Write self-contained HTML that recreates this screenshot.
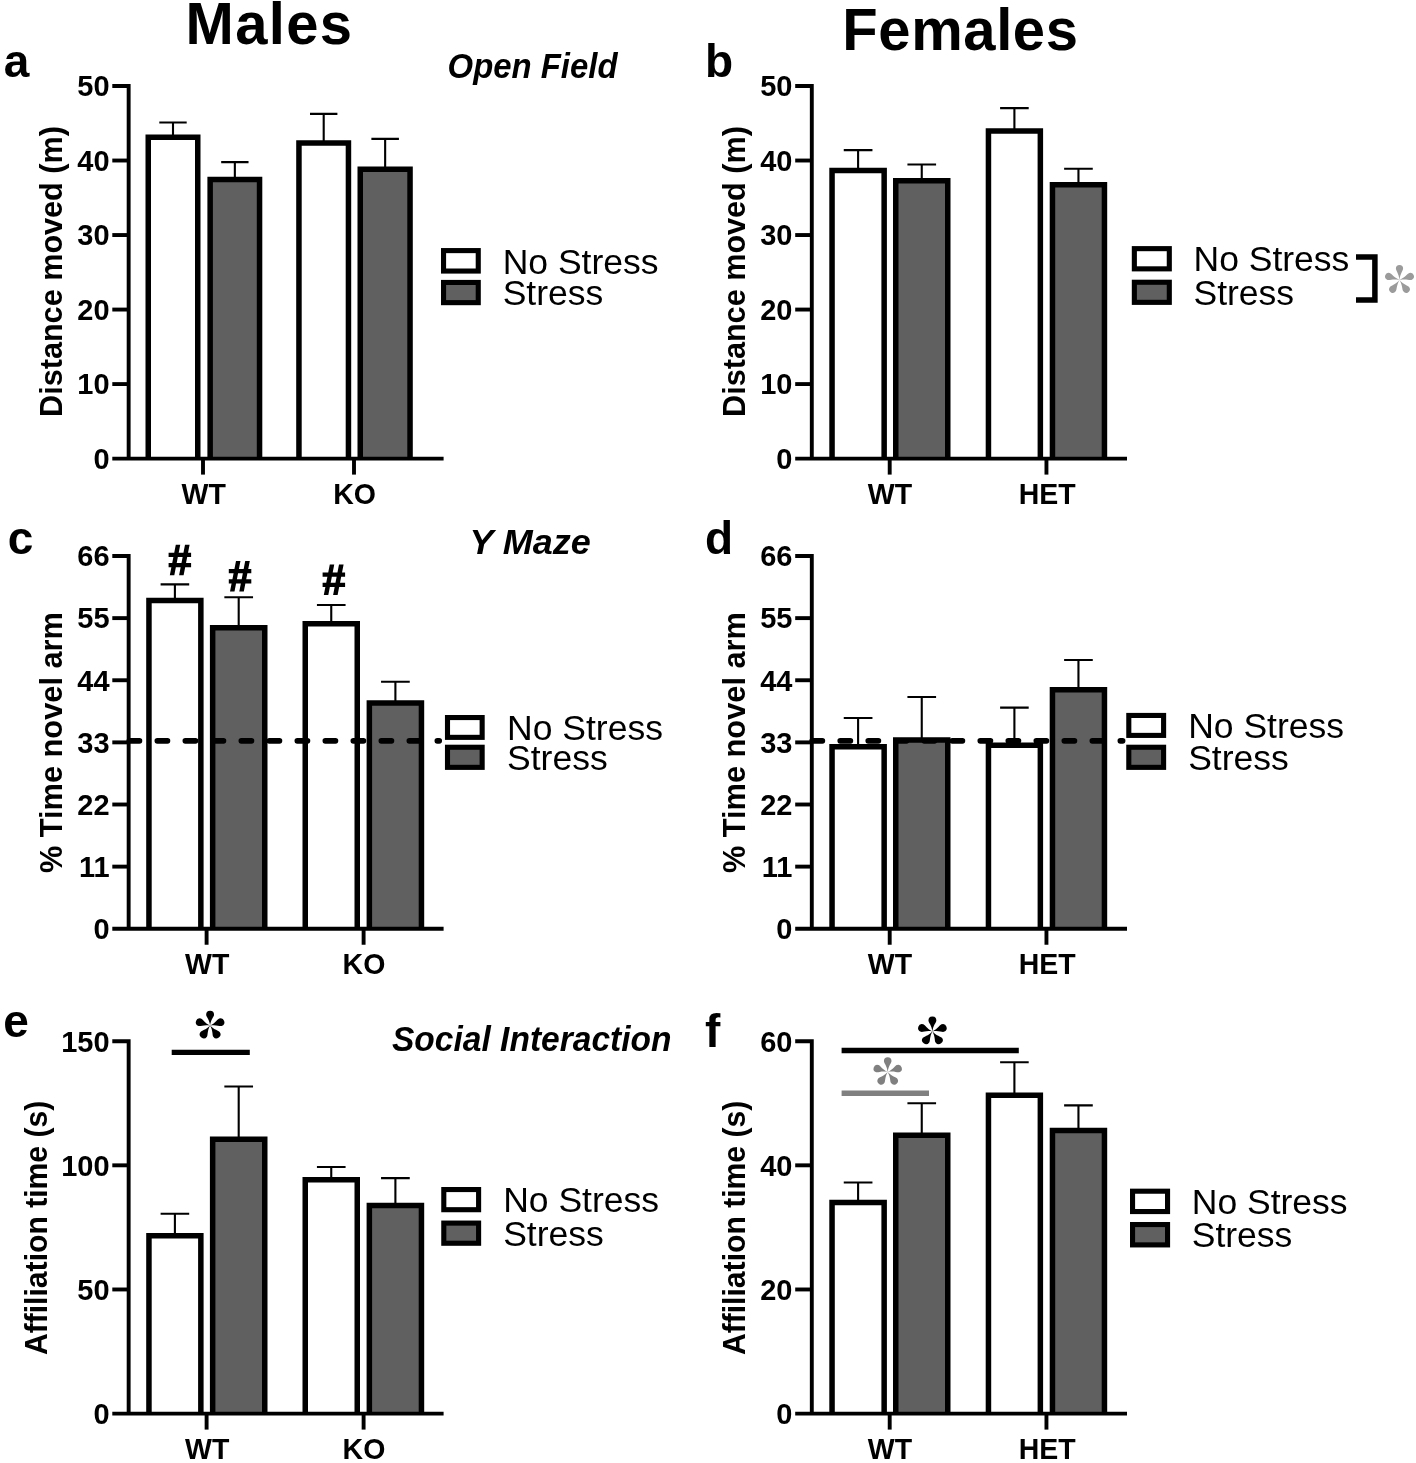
<!DOCTYPE html>
<html><head><meta charset="utf-8"><title>Figure</title>
<style>html,body{margin:0;padding:0;background:#fff}svg{display:block;will-change:transform}</style>
</head><body>
<svg width="1416" height="1463" viewBox="0 0 1416 1463" font-family="'Liberation Sans', sans-serif" fill="#000">
<rect width="1416" height="1463" fill="#fff"/>
<text transform="translate(185.6,44.3) scale(0.993,1)" font-size="58.4" font-weight="bold" font-style="normal" text-anchor="start" fill="#000" letter-spacing="1.3">Males</text>
<text transform="translate(842.3,49.6) scale(0.993,1)" font-size="58.4" font-weight="bold" font-style="normal" text-anchor="start" fill="#000" letter-spacing="0.6">Females</text>
<rect x="148.25" y="137.35" width="49.5" height="321.25" fill="#fff"/>
<rect x="210.15" y="179.55" width="49.4" height="279.05" fill="#606060"/>
<rect x="298.95" y="143.05" width="49.5" height="315.55" fill="#fff"/>
<rect x="360.25" y="169.25" width="49.8" height="289.35" fill="#606060"/>
<path d="M173,122.5V136.6M159.3,122.5H186.7" stroke="#000" stroke-width="2.1" fill="none"/>
<path d="M234.85,162.1V178.8M221.18,162.1H248.53" stroke="#000" stroke-width="2.1" fill="none"/>
<path d="M323.7,113.9V142.3M310,113.9H337.4" stroke="#000" stroke-width="2.1" fill="none"/>
<path d="M385.15,138.9V168.5M371.38,138.9H398.92" stroke="#000" stroke-width="2.1" fill="none"/>
<path d="M148.25,458.6V137.35H197.75V458.6" stroke="#000" stroke-width="5.5" fill="none" stroke-linejoin="miter"/>
<path d="M210.15,458.6V179.55H259.55V458.6" stroke="#000" stroke-width="5.5" fill="none" stroke-linejoin="miter"/>
<path d="M298.95,458.6V143.05H348.45V458.6" stroke="#000" stroke-width="5.5" fill="none" stroke-linejoin="miter"/>
<path d="M360.25,458.6V169.25H410.05V458.6" stroke="#000" stroke-width="5.5" fill="none" stroke-linejoin="miter"/>
<path d="M112.3,86H128.65M128.65,84.05V460.55M112.3,458.6H443.6" stroke="#000" stroke-width="3.9" fill="none"/>
<line x1="112.3" y1="160.52" x2="128.65" y2="160.52" stroke="#000" stroke-width="3.9"/>
<line x1="112.3" y1="235.04" x2="128.65" y2="235.04" stroke="#000" stroke-width="3.9"/>
<line x1="112.3" y1="309.56" x2="128.65" y2="309.56" stroke="#000" stroke-width="3.9"/>
<line x1="112.3" y1="384.08" x2="128.65" y2="384.08" stroke="#000" stroke-width="3.9"/>
<text transform="translate(109.6,96.3) scale(0.973,1)" font-size="29.8" font-weight="bold" font-style="normal" text-anchor="end" fill="#000">50</text>
<text transform="translate(109.6,170.82) scale(0.973,1)" font-size="29.8" font-weight="bold" font-style="normal" text-anchor="end" fill="#000">40</text>
<text transform="translate(109.6,245.34) scale(0.973,1)" font-size="29.8" font-weight="bold" font-style="normal" text-anchor="end" fill="#000">30</text>
<text transform="translate(109.6,319.86) scale(0.973,1)" font-size="29.8" font-weight="bold" font-style="normal" text-anchor="end" fill="#000">20</text>
<text transform="translate(109.6,394.38) scale(0.973,1)" font-size="29.8" font-weight="bold" font-style="normal" text-anchor="end" fill="#000">10</text>
<text transform="translate(109.6,468.9) scale(0.973,1)" font-size="29.8" font-weight="bold" font-style="normal" text-anchor="end" fill="#000">0</text>
<line x1="203" y1="458.6" x2="203" y2="474.6" stroke="#000" stroke-width="3.9"/>
<text transform="translate(203.75,504.3) scale(0.976,1)" font-size="29.2" font-weight="bold" font-style="normal" text-anchor="middle" fill="#000">WT</text>
<line x1="354" y1="458.6" x2="354" y2="474.6" stroke="#000" stroke-width="3.9"/>
<text transform="translate(354.5,504.3) scale(0.976,1)" font-size="29.2" font-weight="bold" font-style="normal" text-anchor="middle" fill="#000">KO</text>
<text transform="translate(61.5,271.5) rotate(-90) scale(0.9723,1)" font-size="31.5" font-weight="bold" text-anchor="middle">Distance moved (m)</text>
<text x="3.75" y="76.7" font-size="46" font-weight="bold" font-style="normal" text-anchor="start" fill="#000">a</text>
<rect x="443.55" y="250.6" width="34.7" height="20.45" fill="#fff" stroke="#000" stroke-width="5.1"/>
<rect x="443.55" y="282.45" width="34.7" height="20.2" fill="#606060" stroke="#000" stroke-width="5.1"/>
<text x="502.7" y="273.6" font-size="35.5" font-weight="normal" font-style="normal" text-anchor="start" fill="#000">No Stress</text>
<text x="502.7" y="305.2" font-size="35.5" font-weight="normal" font-style="normal" text-anchor="start" fill="#000">Stress</text>
<text transform="translate(617.5,78.2) scale(0.962,1)" font-size="34.2" font-weight="bold" font-style="italic" text-anchor="end">Open Field</text>
<rect x="832.05" y="170.45" width="52.1" height="288.15" fill="#fff"/>
<rect x="895.75" y="180.75" width="52" height="277.85" fill="#606060"/>
<rect x="988.45" y="131.05" width="51.9" height="327.55" fill="#fff"/>
<rect x="1052.45" y="184.65" width="52" height="273.95" fill="#606060"/>
<path d="M858.1,150.1V169.7M843.75,150.1H872.45" stroke="#000" stroke-width="2.1" fill="none"/>
<path d="M921.75,164.5V180M907.42,164.5H936.08" stroke="#000" stroke-width="2.1" fill="none"/>
<path d="M1014.4,108.1V130.3M1000.1,108.1H1028.7" stroke="#000" stroke-width="2.1" fill="none"/>
<path d="M1078.45,168.7V183.9M1064.12,168.7H1092.78" stroke="#000" stroke-width="2.1" fill="none"/>
<path d="M832.05,458.6V170.45H884.15V458.6" stroke="#000" stroke-width="5.5" fill="none" stroke-linejoin="miter"/>
<path d="M895.75,458.6V180.75H947.75V458.6" stroke="#000" stroke-width="5.5" fill="none" stroke-linejoin="miter"/>
<path d="M988.45,458.6V131.05H1040.35V458.6" stroke="#000" stroke-width="5.5" fill="none" stroke-linejoin="miter"/>
<path d="M1052.45,458.6V184.65H1104.45V458.6" stroke="#000" stroke-width="5.5" fill="none" stroke-linejoin="miter"/>
<path d="M795.2,86H811.8M811.8,84.05V460.55M795.2,458.6H1127" stroke="#000" stroke-width="3.9" fill="none"/>
<line x1="795.2" y1="160.52" x2="811.8" y2="160.52" stroke="#000" stroke-width="3.9"/>
<line x1="795.2" y1="235.04" x2="811.8" y2="235.04" stroke="#000" stroke-width="3.9"/>
<line x1="795.2" y1="309.56" x2="811.8" y2="309.56" stroke="#000" stroke-width="3.9"/>
<line x1="795.2" y1="384.08" x2="811.8" y2="384.08" stroke="#000" stroke-width="3.9"/>
<text transform="translate(792.5,96.3) scale(0.973,1)" font-size="29.8" font-weight="bold" font-style="normal" text-anchor="end" fill="#000">50</text>
<text transform="translate(792.5,170.82) scale(0.973,1)" font-size="29.8" font-weight="bold" font-style="normal" text-anchor="end" fill="#000">40</text>
<text transform="translate(792.5,245.34) scale(0.973,1)" font-size="29.8" font-weight="bold" font-style="normal" text-anchor="end" fill="#000">30</text>
<text transform="translate(792.5,319.86) scale(0.973,1)" font-size="29.8" font-weight="bold" font-style="normal" text-anchor="end" fill="#000">20</text>
<text transform="translate(792.5,394.38) scale(0.973,1)" font-size="29.8" font-weight="bold" font-style="normal" text-anchor="end" fill="#000">10</text>
<text transform="translate(792.5,468.9) scale(0.973,1)" font-size="29.8" font-weight="bold" font-style="normal" text-anchor="end" fill="#000">0</text>
<line x1="889.7" y1="458.6" x2="889.7" y2="474.6" stroke="#000" stroke-width="3.9"/>
<text transform="translate(890,504.3) scale(0.976,1)" font-size="29.2" font-weight="bold" font-style="normal" text-anchor="middle" fill="#000">WT</text>
<line x1="1046.45" y1="458.6" x2="1046.45" y2="474.6" stroke="#000" stroke-width="3.9"/>
<text transform="translate(1047.2,504.3) scale(0.976,1)" font-size="29.2" font-weight="bold" font-style="normal" text-anchor="middle" fill="#000">HET</text>
<text transform="translate(744.7,271.5) rotate(-90) scale(0.9723,1)" font-size="31.5" font-weight="bold" text-anchor="middle">Distance moved (m)</text>
<text x="705" y="76.7" font-size="46" font-weight="bold" font-style="normal" text-anchor="start" fill="#000">b</text>
<rect x="1134.35" y="248.65" width="34.95" height="20.2" fill="#fff" stroke="#000" stroke-width="5.1"/>
<rect x="1134.35" y="282.25" width="34.95" height="20.1" fill="#606060" stroke="#000" stroke-width="5.1"/>
<text x="1193.5" y="271.4" font-size="35.5" font-weight="normal" font-style="normal" text-anchor="start" fill="#000">No Stress</text>
<text x="1193.5" y="304.9" font-size="35.5" font-weight="normal" font-style="normal" text-anchor="start" fill="#000">Stress</text>
<rect x="148.95" y="600.55" width="51.9" height="328.2" fill="#fff"/>
<rect x="212.65" y="627.65" width="52.1" height="301.1" fill="#606060"/>
<rect x="305.25" y="623.85" width="52" height="304.9" fill="#fff"/>
<rect x="369.35" y="703.05" width="52.1" height="225.7" fill="#606060"/>
<path d="M174.9,584.4V599.8M160.6,584.4H189.2" stroke="#000" stroke-width="2.1" fill="none"/>
<path d="M238.7,597.3V626.9M224.35,597.3H253.05" stroke="#000" stroke-width="2.1" fill="none"/>
<path d="M331.25,605V623.1M316.93,605H345.57" stroke="#000" stroke-width="2.1" fill="none"/>
<path d="M395.4,681.8V702.3M381.05,681.8H409.75" stroke="#000" stroke-width="2.1" fill="none"/>
<path d="M148.95,928.75V600.55H200.85V928.75" stroke="#000" stroke-width="5.5" fill="none" stroke-linejoin="miter"/>
<path d="M212.65,928.75V627.65H264.75V928.75" stroke="#000" stroke-width="5.5" fill="none" stroke-linejoin="miter"/>
<path d="M305.25,928.75V623.85H357.25V928.75" stroke="#000" stroke-width="5.5" fill="none" stroke-linejoin="miter"/>
<path d="M369.35,928.75V703.05H421.45V928.75" stroke="#000" stroke-width="5.5" fill="none" stroke-linejoin="miter"/>
<line x1="129.35" y1="740.8" x2="439.2" y2="740.8" stroke="#000" stroke-width="5.7" stroke-linecap="round" stroke-dasharray="10.1 17.9"/>
<path d="M112.3,556H128.65M128.65,554.05V930.7M112.3,928.75H443.6" stroke="#000" stroke-width="3.9" fill="none"/>
<line x1="112.3" y1="618.12" x2="128.65" y2="618.12" stroke="#000" stroke-width="3.9"/>
<line x1="112.3" y1="680.25" x2="128.65" y2="680.25" stroke="#000" stroke-width="3.9"/>
<line x1="112.3" y1="742.38" x2="128.65" y2="742.38" stroke="#000" stroke-width="3.9"/>
<line x1="112.3" y1="804.5" x2="128.65" y2="804.5" stroke="#000" stroke-width="3.9"/>
<line x1="112.3" y1="866.62" x2="128.65" y2="866.62" stroke="#000" stroke-width="3.9"/>
<text transform="translate(109.6,566.3) scale(0.973,1)" font-size="29.8" font-weight="bold" font-style="normal" text-anchor="end" fill="#000">66</text>
<text transform="translate(109.6,628.42) scale(0.973,1)" font-size="29.8" font-weight="bold" font-style="normal" text-anchor="end" fill="#000">55</text>
<text transform="translate(109.6,690.55) scale(0.973,1)" font-size="29.8" font-weight="bold" font-style="normal" text-anchor="end" fill="#000">44</text>
<text transform="translate(109.6,752.67) scale(0.973,1)" font-size="29.8" font-weight="bold" font-style="normal" text-anchor="end" fill="#000">33</text>
<text transform="translate(109.6,814.8) scale(0.973,1)" font-size="29.8" font-weight="bold" font-style="normal" text-anchor="end" fill="#000">22</text>
<text transform="translate(109.6,876.92) scale(0.973,1)" font-size="29.8" font-weight="bold" font-style="normal" text-anchor="end" fill="#000">11</text>
<text transform="translate(109.6,939.05) scale(0.973,1)" font-size="29.8" font-weight="bold" font-style="normal" text-anchor="end" fill="#000">0</text>
<line x1="206.6" y1="928.75" x2="206.6" y2="944.75" stroke="#000" stroke-width="3.9"/>
<text transform="translate(207.2,974.45) scale(0.976,1)" font-size="29.2" font-weight="bold" font-style="normal" text-anchor="middle" fill="#000">WT</text>
<line x1="363.6" y1="928.75" x2="363.6" y2="944.75" stroke="#000" stroke-width="3.9"/>
<text transform="translate(363.95,974.45) scale(0.976,1)" font-size="29.2" font-weight="bold" font-style="normal" text-anchor="middle" fill="#000">KO</text>
<text transform="translate(61.5,742.6) rotate(-90) scale(0.977,1)" font-size="31.5" font-weight="bold" text-anchor="middle">% Time novel arm</text>
<text x="7.86" y="554.2" font-size="46" font-weight="bold" font-style="normal" text-anchor="start" fill="#000">c</text>
<rect x="447.5" y="717.55" width="34.65" height="19.8" fill="#fff" stroke="#000" stroke-width="5.1"/>
<rect x="447.5" y="747.25" width="34.65" height="20.1" fill="#606060" stroke="#000" stroke-width="5.1"/>
<text x="507.05" y="739.9" font-size="35.5" font-weight="normal" font-style="normal" text-anchor="start" fill="#000">No Stress</text>
<text x="507.05" y="769.9" font-size="35.5" font-weight="normal" font-style="normal" text-anchor="start" fill="#000">Stress</text>
<text transform="translate(590.8,554.2) scale(1.02,1)" font-size="35.3" font-weight="bold" font-style="italic" text-anchor="end">Y Maze</text>
<rect x="832.05" y="746.65" width="52.1" height="182.1" fill="#fff"/>
<rect x="895.75" y="740.05" width="52" height="188.7" fill="#606060"/>
<rect x="988.45" y="745.35" width="51.9" height="183.4" fill="#fff"/>
<rect x="1052.45" y="689.85" width="52" height="238.9" fill="#606060"/>
<path d="M858.1,718V745.9M843.75,718H872.45" stroke="#000" stroke-width="2.1" fill="none"/>
<path d="M921.75,697V739.3M907.42,697H936.08" stroke="#000" stroke-width="2.1" fill="none"/>
<path d="M1014.4,707.6V744.6M1000.1,707.6H1028.7" stroke="#000" stroke-width="2.1" fill="none"/>
<path d="M1078.45,660V689.1M1064.12,660H1092.78" stroke="#000" stroke-width="2.1" fill="none"/>
<path d="M832.05,928.75V746.65H884.15V928.75" stroke="#000" stroke-width="5.5" fill="none" stroke-linejoin="miter"/>
<path d="M895.75,928.75V740.05H947.75V928.75" stroke="#000" stroke-width="5.5" fill="none" stroke-linejoin="miter"/>
<path d="M988.45,928.75V745.35H1040.35V928.75" stroke="#000" stroke-width="5.5" fill="none" stroke-linejoin="miter"/>
<path d="M1052.45,928.75V689.85H1104.45V928.75" stroke="#000" stroke-width="5.5" fill="none" stroke-linejoin="miter"/>
<line x1="812.25" y1="740.8" x2="1122.6" y2="740.8" stroke="#000" stroke-width="5.7" stroke-linecap="round" stroke-dasharray="10.1 17.91"/>
<path d="M795.2,556H811.8M811.8,554.05V930.7M795.2,928.75H1127" stroke="#000" stroke-width="3.9" fill="none"/>
<line x1="795.2" y1="618.12" x2="811.8" y2="618.12" stroke="#000" stroke-width="3.9"/>
<line x1="795.2" y1="680.25" x2="811.8" y2="680.25" stroke="#000" stroke-width="3.9"/>
<line x1="795.2" y1="742.38" x2="811.8" y2="742.38" stroke="#000" stroke-width="3.9"/>
<line x1="795.2" y1="804.5" x2="811.8" y2="804.5" stroke="#000" stroke-width="3.9"/>
<line x1="795.2" y1="866.62" x2="811.8" y2="866.62" stroke="#000" stroke-width="3.9"/>
<text transform="translate(792.5,566.3) scale(0.973,1)" font-size="29.8" font-weight="bold" font-style="normal" text-anchor="end" fill="#000">66</text>
<text transform="translate(792.5,628.42) scale(0.973,1)" font-size="29.8" font-weight="bold" font-style="normal" text-anchor="end" fill="#000">55</text>
<text transform="translate(792.5,690.55) scale(0.973,1)" font-size="29.8" font-weight="bold" font-style="normal" text-anchor="end" fill="#000">44</text>
<text transform="translate(792.5,752.67) scale(0.973,1)" font-size="29.8" font-weight="bold" font-style="normal" text-anchor="end" fill="#000">33</text>
<text transform="translate(792.5,814.8) scale(0.973,1)" font-size="29.8" font-weight="bold" font-style="normal" text-anchor="end" fill="#000">22</text>
<text transform="translate(792.5,876.92) scale(0.973,1)" font-size="29.8" font-weight="bold" font-style="normal" text-anchor="end" fill="#000">11</text>
<text transform="translate(792.5,939.05) scale(0.973,1)" font-size="29.8" font-weight="bold" font-style="normal" text-anchor="end" fill="#000">0</text>
<line x1="889.7" y1="928.75" x2="889.7" y2="944.75" stroke="#000" stroke-width="3.9"/>
<text transform="translate(890,974.45) scale(0.976,1)" font-size="29.2" font-weight="bold" font-style="normal" text-anchor="middle" fill="#000">WT</text>
<line x1="1046.45" y1="928.75" x2="1046.45" y2="944.75" stroke="#000" stroke-width="3.9"/>
<text transform="translate(1047.2,974.45) scale(0.976,1)" font-size="29.2" font-weight="bold" font-style="normal" text-anchor="middle" fill="#000">HET</text>
<text transform="translate(744.7,742.6) rotate(-90) scale(0.977,1)" font-size="31.5" font-weight="bold" text-anchor="middle">% Time novel arm</text>
<text x="705.1" y="554.1" font-size="46" font-weight="bold" font-style="normal" text-anchor="start" fill="#000">d</text>
<rect x="1128.8" y="715.45" width="34.8" height="19.95" fill="#fff" stroke="#000" stroke-width="5.1"/>
<rect x="1128.8" y="747.25" width="34.8" height="20.1" fill="#606060" stroke="#000" stroke-width="5.1"/>
<text x="1188.2" y="737.95" font-size="35.5" font-weight="normal" font-style="normal" text-anchor="start" fill="#000">No Stress</text>
<text x="1188.2" y="769.9" font-size="35.5" font-weight="normal" font-style="normal" text-anchor="start" fill="#000">Stress</text>
<rect x="148.95" y="1235.65" width="51.9" height="177.95" fill="#fff"/>
<rect x="212.65" y="1139.25" width="52.1" height="274.35" fill="#606060"/>
<rect x="305.25" y="1179.85" width="52" height="233.75" fill="#fff"/>
<rect x="369.35" y="1205.55" width="52.1" height="208.05" fill="#606060"/>
<path d="M174.9,1213.8V1234.9M160.6,1213.8H189.2" stroke="#000" stroke-width="2.1" fill="none"/>
<path d="M238.7,1086.5V1138.5M224.35,1086.5H253.05" stroke="#000" stroke-width="2.1" fill="none"/>
<path d="M331.25,1167V1179.1M316.93,1167H345.57" stroke="#000" stroke-width="2.1" fill="none"/>
<path d="M395.4,1178.1V1204.8M381.05,1178.1H409.75" stroke="#000" stroke-width="2.1" fill="none"/>
<path d="M148.95,1413.6V1235.65H200.85V1413.6" stroke="#000" stroke-width="5.5" fill="none" stroke-linejoin="miter"/>
<path d="M212.65,1413.6V1139.25H264.75V1413.6" stroke="#000" stroke-width="5.5" fill="none" stroke-linejoin="miter"/>
<path d="M305.25,1413.6V1179.85H357.25V1413.6" stroke="#000" stroke-width="5.5" fill="none" stroke-linejoin="miter"/>
<path d="M369.35,1413.6V1205.55H421.45V1413.6" stroke="#000" stroke-width="5.5" fill="none" stroke-linejoin="miter"/>
<path d="M112.3,1041.2H128.65M128.65,1039.25V1415.55M112.3,1413.6H443.6" stroke="#000" stroke-width="3.9" fill="none"/>
<line x1="112.3" y1="1165.33" x2="128.65" y2="1165.33" stroke="#000" stroke-width="3.9"/>
<line x1="112.3" y1="1289.47" x2="128.65" y2="1289.47" stroke="#000" stroke-width="3.9"/>
<text transform="translate(109.6,1051.5) scale(0.973,1)" font-size="29.8" font-weight="bold" font-style="normal" text-anchor="end" fill="#000">150</text>
<text transform="translate(109.6,1175.63) scale(0.973,1)" font-size="29.8" font-weight="bold" font-style="normal" text-anchor="end" fill="#000">100</text>
<text transform="translate(109.6,1299.77) scale(0.973,1)" font-size="29.8" font-weight="bold" font-style="normal" text-anchor="end" fill="#000">50</text>
<text transform="translate(109.6,1423.9) scale(0.973,1)" font-size="29.8" font-weight="bold" font-style="normal" text-anchor="end" fill="#000">0</text>
<line x1="206.6" y1="1413.6" x2="206.6" y2="1429.6" stroke="#000" stroke-width="3.9"/>
<text transform="translate(207.2,1459.3) scale(0.976,1)" font-size="29.2" font-weight="bold" font-style="normal" text-anchor="middle" fill="#000">WT</text>
<line x1="363.6" y1="1413.6" x2="363.6" y2="1429.6" stroke="#000" stroke-width="3.9"/>
<text transform="translate(363.95,1459.3) scale(0.976,1)" font-size="29.2" font-weight="bold" font-style="normal" text-anchor="middle" fill="#000">KO</text>
<text transform="translate(46.7,1227.9) rotate(-90) scale(0.9566,1)" font-size="31.5" font-weight="bold" text-anchor="middle">Affiliation time (s)</text>
<text x="3.28" y="1036.5" font-size="46" font-weight="bold" font-style="normal" text-anchor="start" fill="#000">e</text>
<rect x="443.8" y="1189.55" width="34.8" height="20.15" fill="#fff" stroke="#000" stroke-width="5.1"/>
<rect x="443.8" y="1223.1" width="34.8" height="20.15" fill="#606060" stroke="#000" stroke-width="5.1"/>
<text x="503.2" y="1212.25" font-size="35.5" font-weight="normal" font-style="normal" text-anchor="start" fill="#000">No Stress</text>
<text x="503.2" y="1245.8" font-size="35.5" font-weight="normal" font-style="normal" text-anchor="start" fill="#000">Stress</text>
<text transform="translate(671.5,1051.4) scale(0.981,1)" font-size="34.2" font-weight="bold" font-style="italic" text-anchor="end">Social Interaction</text>
<rect x="832.05" y="1202.45" width="52.1" height="211.15" fill="#fff"/>
<rect x="895.75" y="1135.35" width="52" height="278.25" fill="#606060"/>
<rect x="988.45" y="1095.15" width="51.9" height="318.45" fill="#fff"/>
<rect x="1052.45" y="1130.45" width="52" height="283.15" fill="#606060"/>
<path d="M858.1,1182.5V1201.7M843.75,1182.5H872.45" stroke="#000" stroke-width="2.1" fill="none"/>
<path d="M921.75,1103.3V1134.6M907.42,1103.3H936.08" stroke="#000" stroke-width="2.1" fill="none"/>
<path d="M1014.4,1062.2V1094.4M1000.1,1062.2H1028.7" stroke="#000" stroke-width="2.1" fill="none"/>
<path d="M1078.45,1105.4V1129.7M1064.12,1105.4H1092.78" stroke="#000" stroke-width="2.1" fill="none"/>
<path d="M832.05,1413.6V1202.45H884.15V1413.6" stroke="#000" stroke-width="5.5" fill="none" stroke-linejoin="miter"/>
<path d="M895.75,1413.6V1135.35H947.75V1413.6" stroke="#000" stroke-width="5.5" fill="none" stroke-linejoin="miter"/>
<path d="M988.45,1413.6V1095.15H1040.35V1413.6" stroke="#000" stroke-width="5.5" fill="none" stroke-linejoin="miter"/>
<path d="M1052.45,1413.6V1130.45H1104.45V1413.6" stroke="#000" stroke-width="5.5" fill="none" stroke-linejoin="miter"/>
<path d="M795.2,1041.2H811.8M811.8,1039.25V1415.55M795.2,1413.6H1127" stroke="#000" stroke-width="3.9" fill="none"/>
<line x1="795.2" y1="1165.33" x2="811.8" y2="1165.33" stroke="#000" stroke-width="3.9"/>
<line x1="795.2" y1="1289.47" x2="811.8" y2="1289.47" stroke="#000" stroke-width="3.9"/>
<text transform="translate(792.5,1051.5) scale(0.973,1)" font-size="29.8" font-weight="bold" font-style="normal" text-anchor="end" fill="#000">60</text>
<text transform="translate(792.5,1175.63) scale(0.973,1)" font-size="29.8" font-weight="bold" font-style="normal" text-anchor="end" fill="#000">40</text>
<text transform="translate(792.5,1299.77) scale(0.973,1)" font-size="29.8" font-weight="bold" font-style="normal" text-anchor="end" fill="#000">20</text>
<text transform="translate(792.5,1423.9) scale(0.973,1)" font-size="29.8" font-weight="bold" font-style="normal" text-anchor="end" fill="#000">0</text>
<line x1="889.7" y1="1413.6" x2="889.7" y2="1429.6" stroke="#000" stroke-width="3.9"/>
<text transform="translate(890,1459.3) scale(0.976,1)" font-size="29.2" font-weight="bold" font-style="normal" text-anchor="middle" fill="#000">WT</text>
<line x1="1046.45" y1="1413.6" x2="1046.45" y2="1429.6" stroke="#000" stroke-width="3.9"/>
<text transform="translate(1047.2,1459.3) scale(0.976,1)" font-size="29.2" font-weight="bold" font-style="normal" text-anchor="middle" fill="#000">HET</text>
<text transform="translate(744.7,1227.9) rotate(-90) scale(0.9566,1)" font-size="31.5" font-weight="bold" text-anchor="middle">Affiliation time (s)</text>
<text x="704.9" y="1046.7" font-size="46" font-weight="bold" font-style="normal" text-anchor="start" fill="#000">f</text>
<rect x="1132.55" y="1191.2" width="35" height="20.35" fill="#fff" stroke="#000" stroke-width="5.1"/>
<rect x="1132.55" y="1224.55" width="35" height="20.35" fill="#606060" stroke="#000" stroke-width="5.1"/>
<text x="1191.75" y="1214.1" font-size="35.5" font-weight="normal" font-style="normal" text-anchor="start" fill="#000">No Stress</text>
<text x="1191.75" y="1247.45" font-size="35.5" font-weight="normal" font-style="normal" text-anchor="start" fill="#000">Stress</text>
<path d="M0,8h22.5v4.2h-22.5zM0,18.3h22.5v4.25h-22.5zM7.2,0h4.45l-5.95,30.55h-4.5zM16.4,0h4.6l-6,30.55h-4.5z" transform="translate(168.6,544.7)" fill="#000"/>
<path d="M0,8h22.5v4.2h-22.5zM0,18.3h22.5v4.25h-22.5zM7.2,0h4.45l-5.95,30.55h-4.5zM16.4,0h4.6l-6,30.55h-4.5z" transform="translate(228.8,561)" fill="#000"/>
<path d="M0,8h22.5v4.2h-22.5zM0,18.3h22.5v4.25h-22.5zM7.2,0h4.45l-5.95,30.55h-4.5zM16.4,0h4.6l-6,30.55h-4.5z" transform="translate(322.6,564.5)" fill="#000"/>
<path d="M1356,257H1374.9V300H1356" stroke="#000" stroke-width="5.5" fill="none"/>
<g transform="translate(1399.5,280)" fill="#9b9b9b"><path d="M0,0 C-0.8,-6.67 -3.6,-9.23 -3.6,-11.4 A3.6,3.6 0 0 1 3.6,-11.4 C3.6,-9.23 0.8,-6.67 0,0Z" transform="rotate(0)"/><path d="M0,0 C-0.8,-6.67 -3.6,-9.23 -3.6,-11.4 A3.6,3.6 0 0 1 3.6,-11.4 C3.6,-9.23 0.8,-6.67 0,0Z" transform="rotate(72)"/><path d="M0,0 C-0.8,-6.67 -3.6,-9.23 -3.6,-11.4 A3.6,3.6 0 0 1 3.6,-11.4 C3.6,-9.23 0.8,-6.67 0,0Z" transform="rotate(144)"/><path d="M0,0 C-0.8,-6.67 -3.6,-9.23 -3.6,-11.4 A3.6,3.6 0 0 1 3.6,-11.4 C3.6,-9.23 0.8,-6.67 0,0Z" transform="rotate(216)"/><path d="M0,0 C-0.8,-6.67 -3.6,-9.23 -3.6,-11.4 A3.6,3.6 0 0 1 3.6,-11.4 C3.6,-9.23 0.8,-6.67 0,0Z" transform="rotate(288)"/></g>
<line x1="171.7" y1="1052.3" x2="249.8" y2="1052.3" stroke="#000" stroke-width="5.3"/>
<g transform="translate(210.1,1025.55)" fill="#000"><path d="M0,0 C-0.8,-6.35 -3.95,-8.79 -3.95,-10.85 A3.95,3.95 0 0 1 3.95,-10.85 C3.95,-8.79 0.8,-6.35 0,0Z" transform="rotate(0)"/><path d="M0,0 C-0.8,-6.35 -3.95,-8.79 -3.95,-10.85 A3.95,3.95 0 0 1 3.95,-10.85 C3.95,-8.79 0.8,-6.35 0,0Z" transform="rotate(72)"/><path d="M0,0 C-0.8,-6.35 -3.95,-8.79 -3.95,-10.85 A3.95,3.95 0 0 1 3.95,-10.85 C3.95,-8.79 0.8,-6.35 0,0Z" transform="rotate(144)"/><path d="M0,0 C-0.8,-6.35 -3.95,-8.79 -3.95,-10.85 A3.95,3.95 0 0 1 3.95,-10.85 C3.95,-8.79 0.8,-6.35 0,0Z" transform="rotate(216)"/><path d="M0,0 C-0.8,-6.35 -3.95,-8.79 -3.95,-10.85 A3.95,3.95 0 0 1 3.95,-10.85 C3.95,-8.79 0.8,-6.35 0,0Z" transform="rotate(288)"/></g>
<line x1="841.6" y1="1050.5" x2="1018.8" y2="1050.5" stroke="#000" stroke-width="5.5"/>
<g transform="translate(932.4,1031.4)" fill="#000"><path d="M0,0 C-0.8,-6.35 -3.95,-8.79 -3.95,-10.85 A3.95,3.95 0 0 1 3.95,-10.85 C3.95,-8.79 0.8,-6.35 0,0Z" transform="rotate(0)"/><path d="M0,0 C-0.8,-6.35 -3.95,-8.79 -3.95,-10.85 A3.95,3.95 0 0 1 3.95,-10.85 C3.95,-8.79 0.8,-6.35 0,0Z" transform="rotate(72)"/><path d="M0,0 C-0.8,-6.35 -3.95,-8.79 -3.95,-10.85 A3.95,3.95 0 0 1 3.95,-10.85 C3.95,-8.79 0.8,-6.35 0,0Z" transform="rotate(144)"/><path d="M0,0 C-0.8,-6.35 -3.95,-8.79 -3.95,-10.85 A3.95,3.95 0 0 1 3.95,-10.85 C3.95,-8.79 0.8,-6.35 0,0Z" transform="rotate(216)"/><path d="M0,0 C-0.8,-6.35 -3.95,-8.79 -3.95,-10.85 A3.95,3.95 0 0 1 3.95,-10.85 C3.95,-8.79 0.8,-6.35 0,0Z" transform="rotate(288)"/></g>
<line x1="841.6" y1="1093.2" x2="929" y2="1093.2" stroke="#808080" stroke-width="5.5"/>
<g transform="translate(887.7,1072)" fill="#808080"><path d="M0,0 C-0.8,-6.38 -3.8,-8.83 -3.8,-10.9 A3.8,3.8 0 0 1 3.8,-10.9 C3.8,-8.83 0.8,-6.38 0,0Z" transform="rotate(0)"/><path d="M0,0 C-0.8,-6.38 -3.8,-8.83 -3.8,-10.9 A3.8,3.8 0 0 1 3.8,-10.9 C3.8,-8.83 0.8,-6.38 0,0Z" transform="rotate(72)"/><path d="M0,0 C-0.8,-6.38 -3.8,-8.83 -3.8,-10.9 A3.8,3.8 0 0 1 3.8,-10.9 C3.8,-8.83 0.8,-6.38 0,0Z" transform="rotate(144)"/><path d="M0,0 C-0.8,-6.38 -3.8,-8.83 -3.8,-10.9 A3.8,3.8 0 0 1 3.8,-10.9 C3.8,-8.83 0.8,-6.38 0,0Z" transform="rotate(216)"/><path d="M0,0 C-0.8,-6.38 -3.8,-8.83 -3.8,-10.9 A3.8,3.8 0 0 1 3.8,-10.9 C3.8,-8.83 0.8,-6.38 0,0Z" transform="rotate(288)"/></g>
</svg>
</body></html>
